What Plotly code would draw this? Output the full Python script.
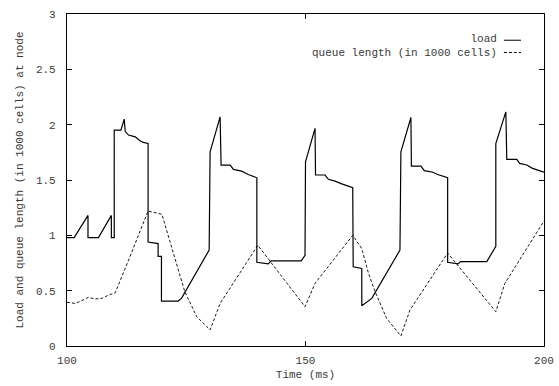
import plotly.graph_objects as go

# Load at the node over time (ms)
load_t = [100.0, 101.5, 104.4, 104.4, 106.6, 109.3, 109.3, 109.9, 109.9, 111.3, 112.0, 112.2,
          112.9, 114.3, 115.3, 116.0, 117.0, 117.0, 119.1, 119.1, 119.8, 119.8, 123.3, 124.0,
          129.8, 130.0, 132.1, 132.3, 134.2, 134.9, 136.6, 138.0, 139.8, 139.8, 142.2, 142.8,
          149.1, 149.9, 150.0, 152.0, 152.1, 154.1, 154.8, 156.2, 157.6, 158.6, 159.9, 160.0,
          161.8, 161.8, 163.9, 169.8, 170.0, 172.1, 172.2, 174.2, 174.9, 176.7, 177.7, 179.8,
          179.8, 182.0, 182.5, 188.0, 189.9, 189.9, 192.0, 192.2, 194.3, 194.9, 196.4, 197.6,
          198.8, 200.0]
load_v = [0.98, 0.98, 1.18, 0.98, 0.98, 1.18, 0.98, 0.98, 1.95, 1.95, 2.05, 1.94,
          1.906, 1.89, 1.855, 1.84, 1.83, 0.94, 0.925, 0.81, 0.81, 0.406, 0.406, 0.43,
          0.867, 1.755, 2.07, 1.635, 1.635, 1.596, 1.58, 1.55, 1.52, 0.756, 0.742, 0.77,
          0.77, 0.82, 1.665, 1.967, 1.545, 1.545, 1.506, 1.49, 1.465, 1.45, 1.43, 0.716,
          0.70, 0.364, 0.43, 0.867, 1.755, 2.065, 1.626, 1.626, 1.584, 1.57, 1.55, 1.52,
          0.756, 0.742, 0.762, 0.762, 0.90, 1.83, 2.115, 1.686, 1.686, 1.65, 1.636, 1.605,
          1.59, 1.57]

# Queue length (in 1000 cells)
queue_t = [100.0, 101.7, 103.1, 104.5, 105.9, 107.3, 108.7, 110.1, 113.6, 117.0, 119.9,
           122.3, 124.7, 127.2, 130.0, 132.1, 140.0, 149.9, 152.0, 159.9, 161.8, 163.2,
           164.6, 167.0, 170.0, 171.9, 179.8, 189.9, 191.8, 200.0]
queue_v = [0.395, 0.385, 0.41, 0.44, 0.425, 0.43, 0.46, 0.48, 0.85, 1.22, 1.19,
           0.84, 0.49, 0.265, 0.145, 0.385, 0.91, 0.355, 0.566, 1.0, 0.88, 0.657,
           0.49, 0.25, 0.09, 0.325, 0.84, 0.31, 0.566, 1.13]

series_names = ["load", "queue length (in 1000 cells)"]

x_ticks = [100, 150, 200]
y_ticks = [0, 0.5, 1, 1.5, 2, 2.5, 3]
y_tick_text = ["0", "0.5", "1", "1.5", "2", "2.5", "3"]

FONT = "Liberation Mono, Courier New, monospace"
TXT = "#3a3a3a"
W, H = 559, 386

fig = go.Figure()
fig.add_trace(go.Scatter(x=load_t, y=load_v, mode="lines", name=series_names[0],
                         line=dict(color="black", width=1.2), showlegend=False))
fig.add_trace(go.Scatter(x=queue_t, y=queue_v, mode="lines", name=series_names[1],
                         line=dict(color="black", width=0.9, dash="3px,2px"),
                         showlegend=False))

# Key in the upper right: right-aligned labels, each followed by a line sample
row_px = [30.5, 44.8]
fig.add_annotation(xref="paper", yref="paper", x=505 / W,
                   y=1 - (row_px[0] + row_px[1]) / 2 / H,
                   text="<br>".join(series_names), align="right",
                   showarrow=False, xanchor="right", yanchor="middle", borderpad=0,
                   font=dict(family=FONT, size=11, color=TXT))
for dash, ypix in zip(["solid", "3px,2px"], row_px):
    yp = 1 - ypix / H
    fig.add_shape(type="line", xref="paper", yref="paper",
                  x0=512 / W, x1=532 / W, y0=yp, y1=yp,
                  line=dict(color="black", width=1, dash=dash))

axis_common = dict(showline=True, linecolor="black", linewidth=1.2, mirror="allticks",
                   ticks="inside", ticklen=5, tickcolor="black", tickwidth=1,
                   showgrid=False, zeroline=False, automargin=False,
                   tickfont=dict(family=FONT, size=11, color=TXT))

fig.update_xaxes(range=[100, 200], tickvals=x_ticks,
                 title=dict(text="Time (ms)", font=dict(family=FONT, size=11, color=TXT),
                            standoff=4),
                 ticklabelstandoff=4, **axis_common)
fig.update_yaxes(range=[0, 3], tickvals=y_ticks, ticktext=y_tick_text,
                 title=dict(text="Load and queue length (in 1000 cells) at node",
                            font=dict(family=FONT, size=11, color=TXT), standoff=10),
                 ticklabelstandoff=8, **axis_common)

fig.update_layout(width=W, height=H, margin=dict(l=67, r=15, t=14, b=40),
                  plot_bgcolor="white", paper_bgcolor="white")

fig.write_html("out.html")
